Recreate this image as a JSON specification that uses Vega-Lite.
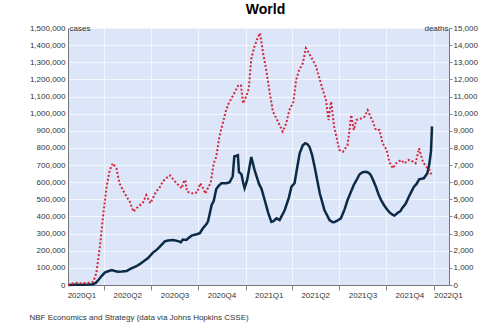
{
  "$schema": "https://vega.github.io/schema/vega-lite/v6.json",
  "width": 381,
  "height": 257,
  "autosize": {"type": "none"},
  "padding": {"left": 68, "top": 28, "right": 51, "bottom": 49},
  "background": "white",
  "config": {
    "font": "Liberation Sans",
    "view": {"fill": "#dce6f8", "stroke": null},
    "axis": {"labelFont": "Liberation Sans", "titleFont": "Liberation Sans", "labelColor": "#333333", "titleColor": "#333333", "labelFontSize": 8, "titleFontSize": 8, "titleFontWeight": "normal", "domainColor": "#777777", "tickColor": "#888888", "gridColor": "#f2f6fd", "gridWidth": 1}
  },
  "title": {"text": "World", "fontSize": 14, "fontWeight": "bold", "font": "Liberation Sans", "anchor": "middle", "frame": "group", "baseline": "alphabetic", "offset": -4, "dx": 7, "color": "#000000"},
  "datasets": {
    "cases": [
      {"date": "2020-01-22", "cases": 0}, {"date": "2020-02-05", "cases": 1000}, {"date": "2020-02-20", "cases": 2000}, {"date": "2020-03-01", "cases": 3000},
      {"date": "2020-03-10", "cases": 5000}, {"date": "2020-03-16", "cases": 12000}, {"date": "2020-03-21", "cases": 29000}, {"date": "2020-03-28", "cases": 55000},
      {"date": "2020-04-03", "cases": 74000}, {"date": "2020-04-09", "cases": 80000}, {"date": "2020-04-16", "cases": 87000}, {"date": "2020-04-22", "cases": 82000},
      {"date": "2020-04-28", "cases": 78000}, {"date": "2020-05-06", "cases": 79000}, {"date": "2020-05-15", "cases": 82000}, {"date": "2020-05-24", "cases": 97000},
      {"date": "2020-06-02", "cases": 108000}, {"date": "2020-06-10", "cases": 123000}, {"date": "2020-06-17", "cases": 138000}, {"date": "2020-06-25", "cases": 156000},
      {"date": "2020-07-05", "cases": 189000}, {"date": "2020-07-12", "cases": 205000}, {"date": "2020-07-18", "cases": 222000}, {"date": "2020-07-28", "cases": 255000},
      {"date": "2020-08-03", "cases": 260000}, {"date": "2020-08-13", "cases": 263000}, {"date": "2020-08-23", "cases": 256000}, {"date": "2020-08-28", "cases": 250000},
      {"date": "2020-09-01", "cases": 265000}, {"date": "2020-09-08", "cases": 263000}, {"date": "2020-09-11", "cases": 272000}, {"date": "2020-09-18", "cases": 288000},
      {"date": "2020-09-28", "cases": 296000}, {"date": "2020-10-04", "cases": 302000}, {"date": "2020-10-10", "cases": 331000}, {"date": "2020-10-17", "cases": 356000},
      {"date": "2020-10-20", "cases": 372000}, {"date": "2020-10-27", "cases": 467000}, {"date": "2020-10-31", "cases": 490000}, {"date": "2020-11-05", "cases": 560000},
      {"date": "2020-11-10", "cases": 580000}, {"date": "2020-11-15", "cases": 594000}, {"date": "2020-11-25", "cases": 594000}, {"date": "2020-12-01", "cases": 600000},
      {"date": "2020-12-07", "cases": 635000}, {"date": "2020-12-10", "cases": 750000}, {"date": "2020-12-17", "cases": 757000}, {"date": "2020-12-19", "cases": 660000},
      {"date": "2020-12-24", "cases": 645000}, {"date": "2020-12-27", "cases": 600000}, {"date": "2020-12-30", "cases": 566000}, {"date": "2021-01-04", "cases": 613000},
      {"date": "2021-01-08", "cases": 680000}, {"date": "2021-01-12", "cases": 747000}, {"date": "2021-01-18", "cases": 675000}, {"date": "2021-01-27", "cases": 590000},
      {"date": "2021-02-01", "cases": 560000}, {"date": "2021-02-07", "cases": 496000}, {"date": "2021-02-14", "cases": 420000}, {"date": "2021-02-20", "cases": 368000},
      {"date": "2021-02-24", "cases": 372000}, {"date": "2021-03-02", "cases": 389000}, {"date": "2021-03-08", "cases": 379000}, {"date": "2021-03-18", "cases": 438000},
      {"date": "2021-03-26", "cases": 510000}, {"date": "2021-03-31", "cases": 574000}, {"date": "2021-04-06", "cases": 594000}, {"date": "2021-04-12", "cases": 700000},
      {"date": "2021-04-16", "cases": 769000}, {"date": "2021-04-22", "cases": 815000}, {"date": "2021-04-27", "cases": 827000}, {"date": "2021-05-01", "cases": 822000},
      {"date": "2021-05-05", "cases": 807000}, {"date": "2021-05-10", "cases": 760000}, {"date": "2021-05-15", "cases": 690000}, {"date": "2021-05-25", "cases": 535000},
      {"date": "2021-06-03", "cases": 438000}, {"date": "2021-06-13", "cases": 379000}, {"date": "2021-06-19", "cases": 366000}, {"date": "2021-06-23", "cases": 368000},
      {"date": "2021-06-28", "cases": 375000}, {"date": "2021-07-05", "cases": 389000}, {"date": "2021-07-12", "cases": 440000}, {"date": "2021-07-18", "cases": 496000},
      {"date": "2021-07-24", "cases": 540000}, {"date": "2021-07-30", "cases": 584000}, {"date": "2021-08-04", "cases": 610000}, {"date": "2021-08-10", "cases": 645000},
      {"date": "2021-08-16", "cases": 658000}, {"date": "2021-08-23", "cases": 661000}, {"date": "2021-08-28", "cases": 655000}, {"date": "2021-09-01", "cases": 642000},
      {"date": "2021-09-06", "cases": 610000}, {"date": "2021-09-11", "cases": 574000}, {"date": "2021-09-16", "cases": 530000}, {"date": "2021-09-21", "cases": 496000},
      {"date": "2021-09-26", "cases": 470000}, {"date": "2021-10-01", "cases": 448000}, {"date": "2021-10-07", "cases": 425000}, {"date": "2021-10-14", "cases": 409000},
      {"date": "2021-10-17", "cases": 405000}, {"date": "2021-10-23", "cases": 420000}, {"date": "2021-10-29", "cases": 432000}, {"date": "2021-11-01", "cases": 448000},
      {"date": "2021-11-08", "cases": 475000}, {"date": "2021-11-14", "cases": 515000}, {"date": "2021-11-19", "cases": 545000}, {"date": "2021-11-24", "cases": 574000},
      {"date": "2021-11-29", "cases": 590000}, {"date": "2021-12-04", "cases": 617000}, {"date": "2021-12-13", "cases": 623000}, {"date": "2021-12-20", "cases": 652000},
      {"date": "2021-12-24", "cases": 710000}, {"date": "2021-12-27", "cases": 780000}, {"date": "2021-12-29", "cases": 926000}
    ],
    "deaths": [
      {"date": "2020-01-22", "deaths": 0}, {"date": "2020-02-05", "deaths": 130}, {"date": "2020-02-15", "deaths": 100}, {"date": "2020-02-25", "deaths": 120},
      {"date": "2020-03-05", "deaths": 150}, {"date": "2020-03-11", "deaths": 190}, {"date": "2020-03-17", "deaths": 680}, {"date": "2020-03-24", "deaths": 2235},
      {"date": "2020-03-30", "deaths": 3990}, {"date": "2020-04-06", "deaths": 5740}, {"date": "2020-04-12", "deaths": 6710}, {"date": "2020-04-18", "deaths": 7100},
      {"date": "2020-04-25", "deaths": 6810}, {"date": "2020-05-01", "deaths": 5940}, {"date": "2020-05-11", "deaths": 5350}, {"date": "2020-05-21", "deaths": 4860},
      {"date": "2020-05-28", "deaths": 4280}, {"date": "2020-06-06", "deaths": 4570}, {"date": "2020-06-15", "deaths": 4770}, {"date": "2020-06-22", "deaths": 5250},
      {"date": "2020-06-30", "deaths": 4770}, {"date": "2020-07-11", "deaths": 5450}, {"date": "2020-07-18", "deaths": 5700}, {"date": "2020-07-24", "deaths": 6030},
      {"date": "2020-07-29", "deaths": 6200}, {"date": "2020-08-07", "deaths": 6400}, {"date": "2020-08-15", "deaths": 6100}, {"date": "2020-08-20", "deaths": 5940},
      {"date": "2020-08-30", "deaths": 5640}, {"date": "2020-09-03", "deaths": 6030}, {"date": "2020-09-06", "deaths": 6130}, {"date": "2020-09-09", "deaths": 5450},
      {"date": "2020-09-19", "deaths": 5350}, {"date": "2020-09-29", "deaths": 5400}, {"date": "2020-10-05", "deaths": 5940}, {"date": "2020-10-09", "deaths": 5740},
      {"date": "2020-10-15", "deaths": 5330}, {"date": "2020-10-21", "deaths": 5740}, {"date": "2020-10-25", "deaths": 5940}, {"date": "2020-10-31", "deaths": 7100},
      {"date": "2020-11-05", "deaths": 7490}, {"date": "2020-11-11", "deaths": 8660}, {"date": "2020-11-16", "deaths": 9240}, {"date": "2020-11-23", "deaths": 10100},
      {"date": "2020-11-29", "deaths": 10600}, {"date": "2020-12-08", "deaths": 11090}, {"date": "2020-12-18", "deaths": 11670}, {"date": "2020-12-23", "deaths": 11650},
      {"date": "2020-12-27", "deaths": 10600}, {"date": "2021-01-02", "deaths": 11000}, {"date": "2021-01-07", "deaths": 11450}, {"date": "2021-01-12", "deaths": 13200},
      {"date": "2021-01-18", "deaths": 13900}, {"date": "2021-01-25", "deaths": 14490}, {"date": "2021-01-29", "deaths": 14700}, {"date": "2021-02-04", "deaths": 13520},
      {"date": "2021-02-10", "deaths": 12550}, {"date": "2021-02-17", "deaths": 11190}, {"date": "2021-02-23", "deaths": 10120}, {"date": "2021-03-05", "deaths": 9530},
      {"date": "2021-03-14", "deaths": 8950}, {"date": "2021-03-21", "deaths": 9440}, {"date": "2021-03-27", "deaths": 10210}, {"date": "2021-04-04", "deaths": 10700},
      {"date": "2021-04-09", "deaths": 11970}, {"date": "2021-04-15", "deaths": 12550}, {"date": "2021-04-22", "deaths": 12940}, {"date": "2021-04-28", "deaths": 13820},
      {"date": "2021-05-08", "deaths": 13330}, {"date": "2021-05-18", "deaths": 12740}, {"date": "2021-05-27", "deaths": 11770}, {"date": "2021-06-06", "deaths": 10800},
      {"date": "2021-06-11", "deaths": 9630}, {"date": "2021-06-16", "deaths": 10700}, {"date": "2021-06-22", "deaths": 9240}, {"date": "2021-07-02", "deaths": 7880},
      {"date": "2021-07-09", "deaths": 7780}, {"date": "2021-07-18", "deaths": 8170}, {"date": "2021-07-21", "deaths": 8850}, {"date": "2021-07-25", "deaths": 9920},
      {"date": "2021-07-30", "deaths": 9050}, {"date": "2021-08-04", "deaths": 9630}, {"date": "2021-08-14", "deaths": 9730}, {"date": "2021-08-20", "deaths": 9820},
      {"date": "2021-08-26", "deaths": 10210}, {"date": "2021-09-05", "deaths": 9530}, {"date": "2021-09-11", "deaths": 9050}, {"date": "2021-09-18", "deaths": 9050},
      {"date": "2021-09-24", "deaths": 8270}, {"date": "2021-10-02", "deaths": 7880}, {"date": "2021-10-07", "deaths": 7200}, {"date": "2021-10-14", "deaths": 6810},
      {"date": "2021-10-20", "deaths": 7100}, {"date": "2021-10-30", "deaths": 7300}, {"date": "2021-11-05", "deaths": 7100}, {"date": "2021-11-14", "deaths": 7300},
      {"date": "2021-11-22", "deaths": 7200}, {"date": "2021-11-27", "deaths": 7100}, {"date": "2021-12-04", "deaths": 7980}, {"date": "2021-12-10", "deaths": 7300},
      {"date": "2021-12-17", "deaths": 6900}, {"date": "2021-12-23", "deaths": 6810}, {"date": "2021-12-28", "deaths": 6420}
    ]
  },
  "encoding": {
    "x": {
      "field": "date", "type": "temporal",
      "scale": {"type": "utc", "domain": [{"year": 2020, "month": 1, "date": 22, "utc": true}, {"year": 2022, "month": 1, "date": 31, "utc": true}], "nice": false},
      "axis": {
        "values": [
          {"year": 2020, "month": 4, "date": 1, "utc": true}, {"year": 2020, "month": 7, "date": 1, "utc": true}, {"year": 2020, "month": 10, "date": 1, "utc": true},
          {"year": 2021, "month": 1, "date": 1, "utc": true}, {"year": 2021, "month": 4, "date": 1, "utc": true}, {"year": 2021, "month": 7, "date": 1, "utc": true},
          {"year": 2021, "month": 10, "date": 1, "utc": true}, {"year": 2022, "month": 1, "date": 1, "utc": true},
          {"year": 2020, "month": 2, "date": 17, "utc": true}, {"year": 2020, "month": 5, "date": 16, "utc": true}, {"year": 2020, "month": 8, "date": 16, "utc": true},
          {"year": 2020, "month": 11, "date": 15, "utc": true}, {"year": 2021, "month": 2, "date": 15, "utc": true}, {"year": 2021, "month": 5, "date": 16, "utc": true},
          {"year": 2021, "month": 8, "date": 16, "utc": true}, {"year": 2021, "month": 11, "date": 15, "utc": true}, {"year": 2022, "month": 1, "date": 29, "utc": true}
        ],
        "labelExpr": "utcdate(datum.value) == 1 ? '' : utcyear(datum.value) + 'Q' + utcquarter(datum.value)",
        "labelOverlap": false,
        "labelFlush": false,
        "tickSize": 5,
        "labelPadding": 1,
        "tickOpacity": {"condition": {"test": "utcdate(datum.value) == 1", "value": 1}, "value": 0},
        "gridOpacity": {"condition": {"test": "utcdate(datum.value) == 1", "value": 1}, "value": 0},
        "grid": true,
        "title": "NBF Economics and Strategy (data via Johns Hopkins CSSE)",
        "titleX": -39,
        "titleY": 34,
        "titleAlign": "left",
        "titleAnchor": "start",
        "titleBaseline": "alphabetic"
      }
    }
  },
  "layer": [
    {
      "data": {"name": "cases"},
      "mark": {"type": "line", "color": "#0c2a46", "strokeWidth": 2.5, "interpolate": "linear"},
      "encoding": {
        "y": {
          "field": "cases", "type": "quantitative",
          "scale": {"domain": [0, 1500000], "nice": false},
          "axis": {
            "orient": "left", "format": ",.0f", "ticks": false, "labelPadding": 3, "grid": true,
            "values": [0, 100000, 200000, 300000, 400000, 500000, 600000, 700000, 800000, 900000, 1000000, 1100000, 1200000, 1300000, 1400000, 1500000],
            "title": "cases", "titleAngle": 0, "titleX": 1, "titleY": 0, "titleAlign": "left", "titleBaseline": "middle"
          }
        }
      }
    },
    {
      "data": {"name": "deaths"},
      "mark": {"type": "line", "color": "#d3263c", "strokeWidth": 2, "strokeDash": [2, 2], "interpolate": "linear"},
      "encoding": {
        "y": {
          "field": "deaths", "type": "quantitative",
          "scale": {"domain": [0, 15000], "nice": false},
          "axis": {
            "orient": "right", "format": ",.0f", "tickSize": 3, "labelPadding": 1, "grid": false,
            "values": [0, 1000, 2000, 3000, 4000, 5000, 6000, 7000, 8000, 9000, 10000, 11000, 12000, 13000, 14000, 15000],
            "title": "deaths", "titleAngle": 0, "titleX": -1, "titleY": 0, "titleAlign": "right", "titleBaseline": "middle"
          }
        }
      }
    }
  ],
  "resolve": {"scale": {"y": "independent"}}
}
